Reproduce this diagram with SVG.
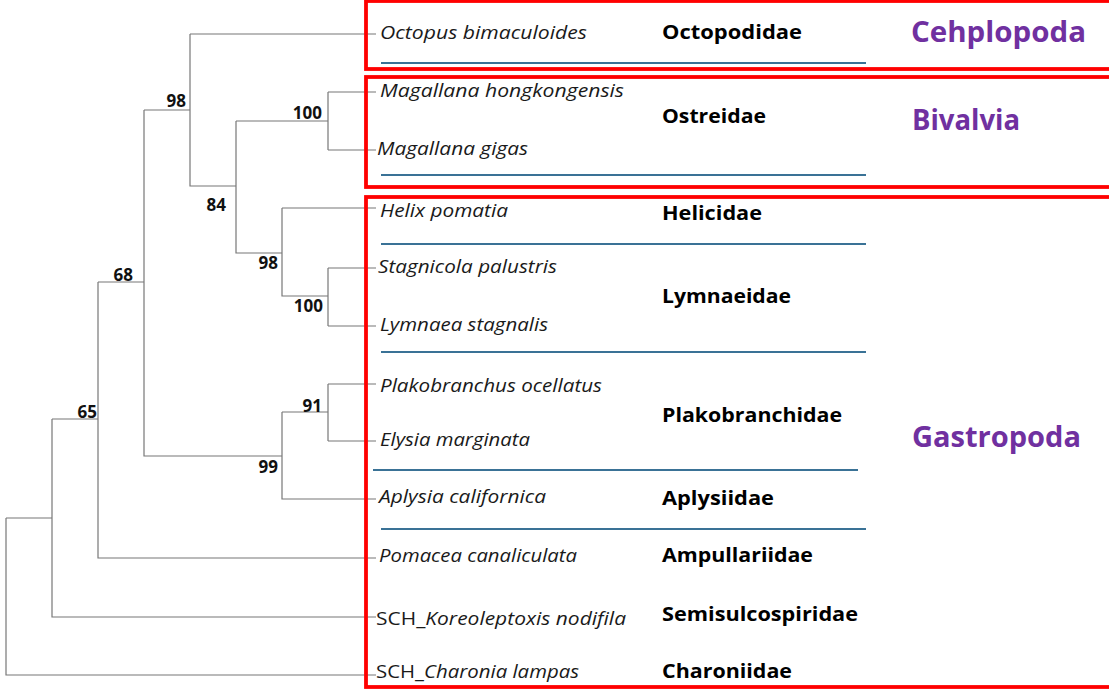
<svg xmlns="http://www.w3.org/2000/svg" width="1109" height="689" viewBox="0 0 1109 689">
<style>
.br{fill:none;stroke:#777;stroke-width:1.2}
.box{fill:none;stroke:#ff0000;stroke-width:3.8}
.sep{stroke:#3a7296;stroke-width:2}
.bs{font-family:"Open Sans","Liberation Sans",sans-serif;font-weight:bold;font-size:17px;fill:#111;text-anchor:end}
.sp{font-family:"Open Sans","Liberation Sans",sans-serif;font-style:italic;font-size:18.5px;fill:#1a1a1a}
.spr{font-family:"Open Sans","Liberation Sans",sans-serif;font-size:18.5px;fill:#1a1a1a}
.fam{font-family:"Open Sans","Liberation Sans",sans-serif;font-weight:bold;font-size:20px;fill:#000}
.cls{font-family:"Open Sans","Liberation Sans",sans-serif;font-weight:bold;font-size:29px;fill:#7030a0}
</style>
<rect width="1109" height="689" fill="#fff"/>
<g id="connectors">
<path class="br" d="M6,518V675H376M6,518H52"/>
<path class="br" d="M52,419V617H376M52,419H98"/>
<path class="br" d="M98,282V558H376M98,282H144"/>
<path class="br" d="M144,110V456H282M144,110H190"/>
<path class="br" d="M190,34V186H236M190,34H376"/>
<path class="br" d="M236,121V253H282M236,121H328"/>
<path class="br" d="M328,92V150M328,92H376M328,150H376"/>
<path class="br" d="M282,208V296H328M282,208H376"/>
<path class="br" d="M328,268V326M328,268H376M328,326H376"/>
<path class="br" d="M282,412V499H376M282,412H328"/>
<path class="br" d="M328,384V441M328,384H376M328,441H376"/>
</g>
<g id="bootstrap">
<text class="bs" x="186" y="107">98</text>
<text class="bs" x="322" y="119">100</text>
<text class="bs" x="226" y="211">84</text>
<text class="bs" x="278" y="269">98</text>
<text class="bs" x="323" y="312">100</text>
<text class="bs" x="133" y="281">68</text>
<text class="bs" x="97" y="418">65</text>
<text class="bs" x="322" y="412">91</text>
<text class="bs" x="278" y="473">99</text>
</g>
<g id="box-cephalopoda">
<rect class="box" x="366" y="1" width="760" height="68"/>
<line class="sep" x1="381" y1="63" x2="866" y2="63"/>
<text class="sp" x="380" y="39" textLength="207" lengthAdjust="spacingAndGlyphs">Octopus bimaculoides</text>
<text class="fam" x="662" y="39" textLength="140" lengthAdjust="spacingAndGlyphs">Octopodidae</text>
<text class="cls" x="911" y="42" textLength="175" lengthAdjust="spacingAndGlyphs">Cehplopoda</text>
</g>
<g id="box-bivalvia">
<rect class="box" x="366" y="77" width="760" height="110"/>
<line class="sep" x1="381" y1="175" x2="866" y2="175"/>
<text class="sp" x="380" y="97" textLength="244" lengthAdjust="spacingAndGlyphs">Magallana hongkongensis</text>
<text class="sp" x="377" y="155" textLength="151" lengthAdjust="spacingAndGlyphs">Magallana gigas</text>
<text class="fam" x="662" y="123" textLength="104" lengthAdjust="spacingAndGlyphs">Ostreidae</text>
<text class="cls" x="912" y="130" textLength="108" lengthAdjust="spacingAndGlyphs">Bivalvia</text>
</g>
<g id="box-gastropoda">
<rect class="box" x="366" y="197" width="760" height="490"/>
<line class="sep" x1="381" y1="244" x2="866" y2="244"/>
<line class="sep" x1="381" y1="352" x2="866" y2="352"/>
<line class="sep" x1="373" y1="470" x2="858" y2="470"/>
<line class="sep" x1="381" y1="529" x2="866" y2="529"/>
<text class="sp" x="380" y="217" textLength="128" lengthAdjust="spacingAndGlyphs">Helix pomatia</text>
<text class="sp" x="378" y="273" textLength="179" lengthAdjust="spacingAndGlyphs">Stagnicola palustris</text>
<text class="sp" x="380" y="331" textLength="168" lengthAdjust="spacingAndGlyphs">Lymnaea stagnalis</text>
<text class="sp" x="380" y="392" textLength="222" lengthAdjust="spacingAndGlyphs">Plakobranchus ocellatus</text>
<text class="sp" x="380" y="446" textLength="150" lengthAdjust="spacingAndGlyphs">Elysia marginata</text>
<text class="sp" x="379" y="503" textLength="167" lengthAdjust="spacingAndGlyphs">Aplysia californica</text>
<text class="sp" x="379" y="562" textLength="198" lengthAdjust="spacingAndGlyphs">Pomacea canaliculata</text>
<text class="spr" x="376" y="625" textLength="250" lengthAdjust="spacingAndGlyphs">SCH_<tspan font-style="italic">Koreoleptoxis nodifila</tspan></text>
<text class="spr" x="376" y="678" textLength="203" lengthAdjust="spacingAndGlyphs">SCH_<tspan font-style="italic">Charonia lampas</tspan></text>
<text class="fam" x="662" y="220" textLength="100" lengthAdjust="spacingAndGlyphs">Helicidae</text>
<text class="fam" x="662" y="303" textLength="129" lengthAdjust="spacingAndGlyphs">Lymnaeidae</text>
<text class="fam" x="662" y="422" textLength="180" lengthAdjust="spacingAndGlyphs">Plakobranchidae</text>
<text class="fam" x="662" y="505" textLength="112" lengthAdjust="spacingAndGlyphs">Aplysiidae</text>
<text class="fam" x="662" y="562" textLength="151" lengthAdjust="spacingAndGlyphs">Ampullariidae</text>
<text class="fam" x="662" y="621" textLength="196" lengthAdjust="spacingAndGlyphs">Semisulcospiridae</text>
<text class="fam" x="662" y="678" textLength="130" lengthAdjust="spacingAndGlyphs">Charoniidae</text>
<text class="cls" x="912" y="447" textLength="169" lengthAdjust="spacingAndGlyphs">Gastropoda</text>
</g>
</svg>
